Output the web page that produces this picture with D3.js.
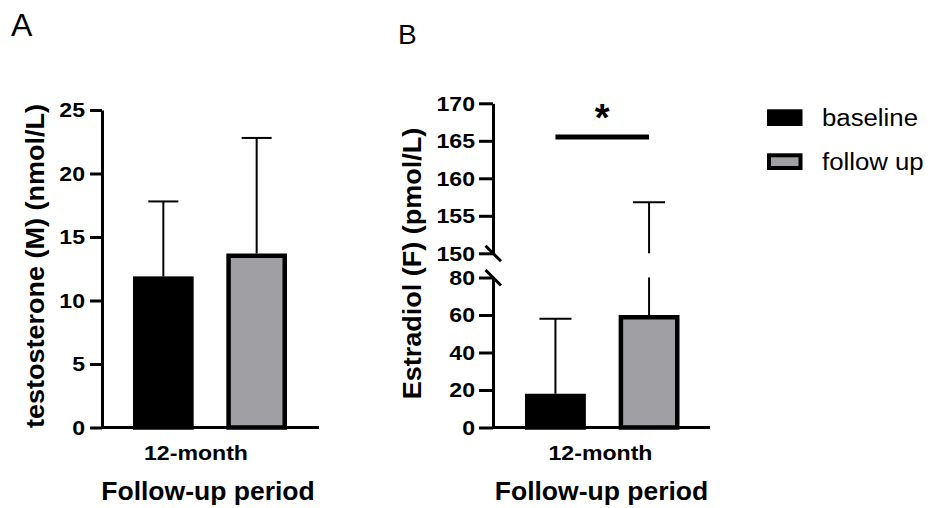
<!DOCTYPE html>
<html>
<meta charset="utf-8" />
<style>
  body { margin: 0; background: #fff; }
  svg { font-family: "Liberation Sans", Arial, Helvetica, sans-serif; }
</style>
<svg width="933" height="508"></svg>
<script src="https://d3js.org/d3.v7.min.js"></script>
<script>
  // data
  const groups = ["baseline", "follow up"];
  const colors = ["#000000", "#a0a0a4"];
  const testoMean = [11.9, 13.7];
  const testoUpper = [17.8, 22.8];
  const estraMean = [18, 60];
  const estraUpper = [58, 156.8];
  const testoTicks = [0, 5, 10, 15, 20, 25];
  const estraLowTicks = [0, 20, 40, 60, 80];
  const estraHighTicks = [150, 155, 160, 165, 170];
  const estraBreak = [80, 150];
  const sigLevel = 165.5;

  const svg = d3.select("svg");
  const bottom = 427.5;
  const barStroke = 4.5;
  const K = 1.08; // figure text is a bit wider than plain Arial

  function stretch(sel, k) {
    sel.each(function () {
      const w = this.getComputedTextLength();
      d3.select(this).attr("textLength", w * k).attr("lengthAdjust", "spacingAndGlyphs");
    });
  }

  function styleAxis(g) {
    g.select(".domain").attr("stroke", "#000").attr("stroke-width", 3);
    g.selectAll(".tick line").attr("stroke", "#000").attr("stroke-width", 3);
    g.selectAll(".tick text")
      .attr("fill", "#000")
      .attr("font-size", 21)
      .attr("font-weight", "bold")
      .attr("font-family", "Liberation Sans, Arial, sans-serif");
    stretch(g.selectAll(".tick text"), 1.1);
  }

  // ---------- panel A ----------
  const axA = 102;
  const yA = d3.scaleLinear().domain([0, 25]).range([bottom, 110]);
  const xA = d3.scaleBand().domain(groups).range([133, 287]).paddingInner(0.35);

  const gA = svg.append("g");
  gA.append("line")
    .attr("x1", axA).attr("x2", axA + 217)
    .attr("y1", bottom).attr("y2", bottom)
    .attr("stroke", "#000").attr("stroke-width", 3);

  // error bars (drawn first, bar covers lower part)
  gA.selectAll("g.err").data(groups).join("g").each(function (d, i) {
    const cx = xA(d) + xA.bandwidth() / 2;
    const g = d3.select(this);
    g.append("line").attr("x1", cx).attr("x2", cx)
      .attr("y1", yA(testoMean[i])).attr("y2", yA(testoUpper[i]))
      .attr("stroke", "#000").attr("stroke-width", 2);
    g.append("line").attr("x1", cx - 15).attr("x2", cx + 15)
      .attr("y1", yA(testoUpper[i])).attr("y2", yA(testoUpper[i]))
      .attr("stroke", "#000").attr("stroke-width", 2);
  });

  gA.selectAll("rect.bar").data(groups).join("rect")
    .attr("x", (d) => xA(d) + barStroke / 2)
    .attr("width", xA.bandwidth() - barStroke)
    .attr("y", (d, i) => yA(testoMean[i]) + barStroke / 2)
    .attr("height", (d, i) => yA(0) - yA(testoMean[i]) - barStroke / 2)
    .attr("fill", (d, i) => colors[i])
    .attr("stroke", "#000").attr("stroke-width", barStroke);

  gA.append("g")
    .attr("transform", `translate(${axA},0)`)
    .call(d3.axisLeft(yA).tickValues(testoTicks).tickSize(12).tickSizeOuter(0).tickPadding(5))
    .call(styleAxis);

  const tA = gA.append("text")
    .attr("transform", `translate(44,266) rotate(-90)`)
    .attr("text-anchor", "middle")
    .attr("font-size", 25).attr("font-weight", "bold")
    .text("testosterone (M) (nmol/L)");
  stretch(tA, K);

  const cA = gA.append("text").attr("x", 196).attr("y", 460)
    .attr("text-anchor", "middle").attr("font-size", 21).attr("font-weight", "bold")
    .text("12-month");
  stretch(cA, 1.1);

  const fA = gA.append("text").attr("x", 208).attr("y", 500)
    .attr("text-anchor", "middle").attr("font-size", 25).attr("font-weight", "bold")
    .text("Follow-up period");
  stretch(fA, 1.06);

  svg.append("text").attr("x", 11).attr("y", 36).attr("font-size", 32).text("A");

  // ---------- panel B (broken axis) ----------
  const axB = 493;
  const yLow = d3.scaleLinear().domain([0, estraBreak[0]]).range([bottom, 277.5]);
  const yHigh = d3.scaleLinear().domain([estraBreak[1], 170]).range([253.3, 103.3]);
  const yB = (v) => (v <= estraBreak[0] ? yLow(v) : yHigh(v));
  const xB = d3.scaleBand().domain(groups).range([525, 679.5]).paddingInner(0.35);

  const gB = svg.append("g");
  gB.append("line")
    .attr("x1", axB).attr("x2", axB + 217)
    .attr("y1", bottom).attr("y2", bottom)
    .attr("stroke", "#000").attr("stroke-width", 3);

  gB.selectAll("g.err").data(groups).join("g").each(function (d, i) {
    const cx = xB(d) + xB.bandwidth() / 2;
    const g = d3.select(this);
    const lo = estraMean[i], hi = estraUpper[i];
    const segs = hi > estraBreak[1]
      ? [[lo, estraBreak[0]], [estraBreak[1], hi]]
      : [[lo, hi]];
    segs.forEach((s) => {
      g.append("line").attr("x1", cx).attr("x2", cx)
        .attr("y1", yB(s[0])).attr("y2", yB(s[1]))
        .attr("stroke", "#000").attr("stroke-width", 2);
    });
    g.append("line").attr("x1", cx - 16).attr("x2", cx + 16)
      .attr("y1", yB(hi)).attr("y2", yB(hi))
      .attr("stroke", "#000").attr("stroke-width", 2);
  });

  gB.selectAll("rect.bar").data(groups).join("rect")
    .attr("x", (d) => xB(d) + barStroke / 2)
    .attr("width", xB.bandwidth() - barStroke)
    .attr("y", (d, i) => yB(estraMean[i]) + barStroke / 2)
    .attr("height", (d, i) => yB(0) - yB(estraMean[i]) - barStroke / 2)
    .attr("fill", (d, i) => colors[i])
    .attr("stroke", "#000").attr("stroke-width", barStroke);

  gB.append("g")
    .attr("transform", `translate(${axB},0)`)
    .call(d3.axisLeft(yLow).tickValues(estraLowTicks).tickSize(14).tickSizeOuter(0).tickPadding(4))
    .call(styleAxis);
  gB.append("g")
    .attr("transform", `translate(${axB},0)`)
    .call(d3.axisLeft(yHigh).tickValues(estraHighTicks).tickSize(14).tickSizeOuter(0).tickPadding(4))
    .call(styleAxis);

  // break marks
  [yHigh(estraBreak[1]), yLow(estraBreak[0])].forEach((y) => {
    gB.append("line")
      .attr("x1", axB - 7.5).attr("x2", axB + 8)
      .attr("y1", y - 7.5).attr("y2", y + 8)
      .attr("stroke", "#000").attr("stroke-width", 3);
  });

  // significance bar
  const s0 = xB(groups[0]) + xB.bandwidth() / 2;
  const s1 = xB(groups[1]) + xB.bandwidth() / 2;
  gB.append("line")
    .attr("x1", s0).attr("x2", s1)
    .attr("y1", yHigh(sigLevel)).attr("y2", yHigh(sigLevel))
    .attr("stroke", "#000").attr("stroke-width", 5);
  gB.append("text")
    .attr("x", (s0 + s1) / 2).attr("y", 131)
    .attr("text-anchor", "middle").attr("font-size", 38).attr("font-weight", "bold")
    .text("*");

  const tB = gB.append("text")
    .attr("transform", `translate(421,263.5) rotate(-90)`)
    .attr("text-anchor", "middle")
    .attr("font-size", 25).attr("font-weight", "bold")
    .text("Estradiol (F) (pmol/L)");
  stretch(tB, K);

  const cB = gB.append("text").attr("x", 600.5).attr("y", 460)
    .attr("text-anchor", "middle").attr("font-size", 21).attr("font-weight", "bold")
    .text("12-month");
  stretch(cB, 1.1);

  const fB = gB.append("text").attr("x", 601.5).attr("y", 500)
    .attr("text-anchor", "middle").attr("font-size", 25).attr("font-weight", "bold")
    .text("Follow-up period");
  stretch(fB, 1.06);

  svg.append("text").attr("x", 398).attr("y", 43.5).attr("font-size", 28).text("B");

  // ---------- legend ----------
  const lg = svg.append("g");
  const legY = [109.3, 153.3];
  groups.forEach((d, i) => {
    lg.append("rect")
      .attr("x", 767 + 2).attr("y", legY[i] + 2)
      .attr("width", 31.5).attr("height", 12.7)
      .attr("fill", colors[i]).attr("stroke", "#000").attr("stroke-width", 4);
    const t = lg.append("text")
      .attr("x", 822).attr("y", legY[i] + 16.7)
      .attr("font-size", 23)
      .text(d);
    stretch(t, 1.12);
  });
</script>
</html>
